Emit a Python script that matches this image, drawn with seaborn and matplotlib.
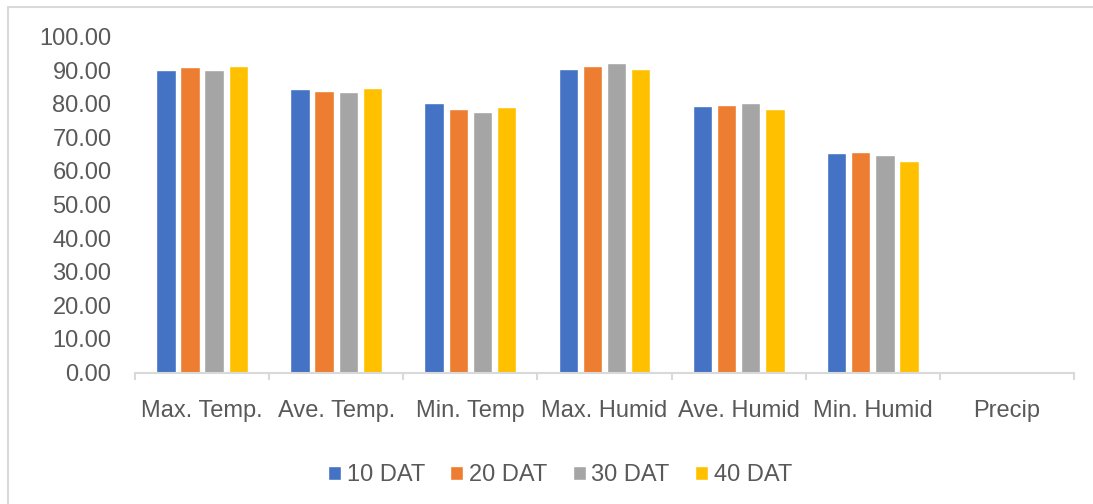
import numpy as np
import pandas as pd
import seaborn as sns
import matplotlib.pyplot as plt
from matplotlib.patches import Rectangle
from matplotlib.ticker import FormatStrFormatter, FixedLocator

# chart data
categories = ['Max. Temp.', 'Ave. Temp.', 'Min. Temp', 'Max. Humid', 'Ave. Humid', 'Min. Humid', 'Precip']
series = ['10 DAT', '20 DAT', '30 DAT', '40 DAT']
dat10 = [90.1, 84.3, 80.2, 90.3, 79.3, 65.3, 0.0]
dat20 = [90.9, 83.8, 78.4, 91.3, 79.7, 65.6, 0.0]
dat30 = [90.1, 83.5, 77.6, 92.0, 80.1, 64.8, 0.0]
dat40 = [91.2, 84.6, 79.0, 90.3, 78.4, 62.8, 0.0]
colors = ['#4472C4', '#ED7D31', '#A5A5A5', '#FFC000']

df = pd.DataFrame({
    'category': categories * 4,
    'series': np.repeat(series, len(categories)),
    'value': dat10 + dat20 + dat30 + dat40,
})

sns.set_theme(style='white')
plt.rcParams['font.family'] = ['Liberation Sans', 'DejaVu Sans']

fig = plt.figure(figsize=(10.93, 5.04), dpi=100)
ax = fig.add_axes([135 / 1093, 1 - 372.5 / 504, (1074 - 135) / 1093, 336 / 504])

sns.barplot(data=df, x='category', y='value', hue='series', order=categories,
            hue_order=series, palette=colors, width=0.72, gap=0.2,
            saturation=1, ax=ax)

ax.set_ylim(0, 100)
ax.set_xlim(-0.5, 6.5)
ax.set_yticks(np.arange(0, 101, 10))
ax.yaxis.set_major_formatter(FormatStrFormatter('%.2f'))
ax.set_xlabel('')
ax.set_ylabel('')

txt = '#595959'
ax.tick_params(axis='y', length=0, pad=17, labelsize=17, labelcolor=txt)
ax.tick_params(axis='x', which='major', length=0, pad=20, labelsize=17, labelcolor=txt)
ax.xaxis.set_minor_locator(FixedLocator(np.arange(-0.5, 7, 1)))
ax.tick_params(axis='x', which='minor', bottom=True, length=5, width=1.5, color='#d9d9d9')

for s in ['top', 'right', 'left']:
    ax.spines[s].set_visible(False)
ax.spines['bottom'].set_color('#d9d9d9')
ax.spines['bottom'].set_linewidth(1.5)

handles, labels = ax.get_legend_handles_labels()
ax.get_legend().remove()
fig.legend(handles, labels, loc='center', bbox_to_anchor=(560 / 1093, 1 - 475 / 504),
           ncol=4, frameon=False, fontsize=17, labelcolor=txt,
           handlelength=0.55, handleheight=0.55, handletextpad=0.25,
           columnspacing=1.06)

# chart-area border (only top and left edges visible)
fig.add_artist(Rectangle((8 / 1093, -0.1), 1.2, 0.1 + 1 - 7 / 504,
                         transform=fig.transFigure, fill=False,
                         edgecolor='#d9d9d9', linewidth=1.5))

fig.savefig('out.png', dpi=100)
